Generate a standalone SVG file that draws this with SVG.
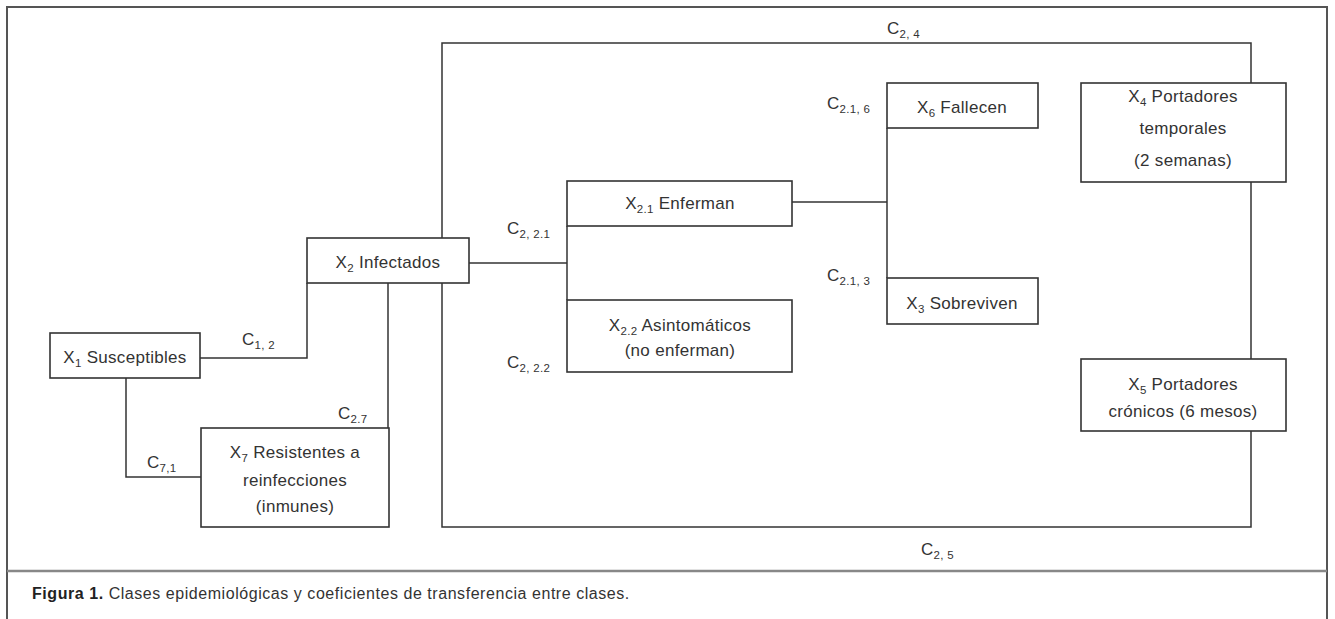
<svg xmlns="http://www.w3.org/2000/svg" width="1335" height="619" viewBox="0 0 1335 619">
<style>
.bg{fill:#ffffff}
.frame{fill:none;stroke:#555;stroke-width:2}
.sep{fill:none;stroke:#888;stroke-width:2.5}
.box{fill:#ffffff;stroke:#333;stroke-width:1.6}
.con{fill:none;stroke:#333;stroke-width:1.5}
text{font-family:"Liberation Sans",Arial,Helvetica,sans-serif;fill:#333;font-size:17px;letter-spacing:0.3px}
.n{text-anchor:middle}
.s{font-size:11.5px}
.cap{font-size:16px;letter-spacing:0.55px;fill:#333}
.b{font-weight:bold;fill:#222}
</style>
<rect class="bg" x="0" y="0" width="1335" height="619"/>
<path class="frame" d="M7 625 V7 H1327 V625"/>
<line class="sep" x1="7" y1="571" x2="1327" y2="571"/>

<g id="connectors">
<path class="con" d="M200 358 H307 V283"/>
<path class="con" d="M126 378 V477 H201"/>
<path class="con" d="M388 283 V428"/>
<path class="con" d="M469 263 H567"/>
<path class="con" d="M567 226 V300"/>
<path class="con" d="M442 238 V43 H1251 V83"/>
<path class="con" d="M442 283 V527 H1251 V431"/>
<path class="con" d="M1251 182 V359"/>
<path class="con" d="M792 202 H887"/>
<path class="con" d="M887 128 V278"/>
</g>

<g id="connector-labels">
<text x="887" y="34">C<tspan class="s" dy="4">2, 4</tspan></text>
<text x="827" y="109">C<tspan class="s" dy="4">2.1, 6</tspan></text>
<text x="507" y="234">C<tspan class="s" dy="4">2, 2.1</tspan></text>
<text x="507" y="368">C<tspan class="s" dy="4">2, 2.2</tspan></text>
<text x="827" y="281">C<tspan class="s" dy="4">2.1, 3</tspan></text>
<text x="242" y="345">C<tspan class="s" dy="4">1, 2</tspan></text>
<text x="338" y="419">C<tspan class="s" dy="4">2.7</tspan></text>
<text x="147" y="468">C<tspan class="s" dy="4">7,1</tspan></text>
<text x="921" y="555">C<tspan class="s" dy="4">2, 5</tspan></text>
</g>

<g id="X1">
<rect class="box" x="50" y="333" width="150" height="45"/>
<text class="n" x="125" y="363">X<tspan class="s" dy="4">1</tspan><tspan dy="-4"> Susceptibles</tspan></text>
</g>
<g id="X2">
<rect class="box" x="307" y="238" width="162" height="45"/>
<text class="n" x="388" y="268">X<tspan class="s" dy="4">2</tspan><tspan dy="-4"> Infectados</tspan></text>
</g>
<g id="X7">
<rect class="box" x="201" y="428" width="188" height="99"/>
<text class="n" x="295" y="458">X<tspan class="s" dy="4">7</tspan><tspan dy="-4"> Resistentes a</tspan></text>
<text class="n" x="295" y="486">reinfecciones</text>
<text class="n" x="295" y="512">(inmunes)</text>
</g>
<g id="X2_1">
<rect class="box" x="567" y="181" width="225" height="45"/>
<text class="n" x="680" y="209">X<tspan class="s" dy="4">2.1</tspan><tspan dy="-4"> Enferman</tspan></text>
</g>
<g id="X2_2">
<rect class="box" x="567" y="300" width="225" height="72"/>
<text class="n" x="680" y="331">X<tspan class="s" dy="4">2.2</tspan><tspan dy="-4"> Asintomáticos</tspan></text>
<text class="n" x="680" y="356">(no enferman)</text>
</g>
<g id="X6">
<rect class="box" x="887" y="83" width="151" height="45"/>
<text class="n" x="962" y="113">X<tspan class="s" dy="4">6</tspan><tspan dy="-4"> Fallecen</tspan></text>
</g>
<g id="X3">
<rect class="box" x="887" y="278" width="151" height="46"/>
<text class="n" x="962" y="309">X<tspan class="s" dy="4">3</tspan><tspan dy="-4"> Sobreviven</tspan></text>
</g>
<g id="X4">
<rect class="box" x="1081" y="83" width="205" height="99"/>
<text class="n" x="1183" y="102">X<tspan class="s" dy="4">4</tspan><tspan dy="-4"> Portadores</tspan></text>
<text class="n" x="1183" y="134">temporales</text>
<text class="n" x="1183" y="166">(2 semanas)</text>
</g>
<g id="X5">
<rect class="box" x="1081" y="359" width="205" height="72"/>
<text class="n" x="1183" y="390">X<tspan class="s" dy="4">5</tspan><tspan dy="-4"> Portadores</tspan></text>
<text class="n" x="1183" y="417">crónicos (6 mesos)</text>
</g>

<g id="caption">
<text class="cap" x="32" y="599"><tspan class="b">Figura 1.</tspan> Clases epidemiológicas y coeficientes de transferencia entre clases.</text>
</g>
</svg>
